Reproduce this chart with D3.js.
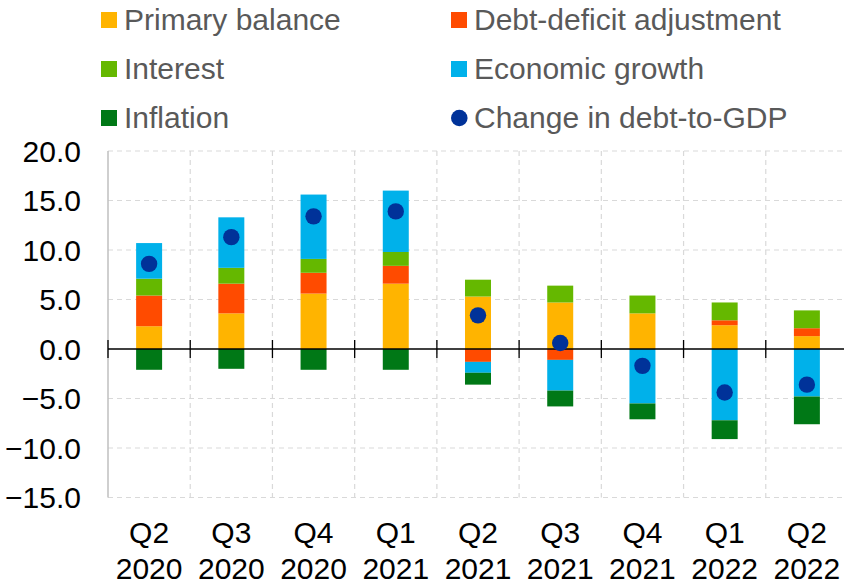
<!DOCTYPE html>
<html>
<head>
<meta charset="utf-8">
<script src="https://cdn.jsdelivr.net/npm/d3@7"></script>
<style>
  body { margin: 0; background: #fff; }
  svg { display: block; font-family: Arial, "Liberation Sans", sans-serif; }
</style>
</head>
<body>
<div id="chart"></div>
<script>
// quarters on the x axis (two-line labels)
const quarters = ["Q2 2020", "Q3 2020", "Q4 2020", "Q1 2021", "Q2 2021", "Q3 2021", "Q4 2021", "Q1 2022", "Q2 2022"];

// contributions to the change in debt-to-GDP (percentage points)
const primaryBalance = [2.3, 3.6, 5.6, 6.6, 5.3, 4.7, 3.6, 2.4, 1.3];
const debtDeficit    = [3.1, 3.0, 2.1, 1.8, -1.3, -1.1, 0.0, 0.5, 0.8];
const interest       = [1.7, 1.6, 1.4, 1.4, 1.7, 1.7, 1.8, 1.8, 1.8];
const growth         = [3.6, 5.1, 6.5, 6.2, -1.1, -3.1, -5.5, -7.2, -4.8];
const inflation      = [-2.1, -2.0, -2.1, -2.1, -1.2, -1.6, -1.6, -1.9, -2.8];
const changeDebt     = [8.6, 11.3, 13.4, 13.9, 3.4, 0.6, -1.7, -4.4, -3.6];

const yTicks = [20, 15, 10, 5, 0, -5, -10, -15];

const series = [
  { key: "primary", name: "Primary balance", values: primaryBalance, color: "#FFB400" },
  { key: "dd", name: "Debt-deficit adjustment", values: debtDeficit, color: "#FF4B00" },
  { key: "interest", name: "Interest", values: interest, color: "#65B800" },
  { key: "growth", name: "Economic growth", values: growth, color: "#00B1EA" },
  { key: "inflation", name: "Inflation", values: inflation, color: "#007816" }
];
const dotColor = "#003299";

const width = 844, height = 583;
const plot = { left: 108, right: 848, top: 151, bottom: 497.5 };

const svg = d3.select("#chart").append("svg")
  .attr("width", width)
  .attr("height", height);

// table for d3.stack
const table = quarters.map((q, i) => {
  const row = { quarter: q };
  series.forEach(s => { row[s.key] = s.values[i]; });
  return row;
});

const xScale = d3.scaleBand()
  .domain(quarters)
  .range([plot.left, plot.right])
  .padding(0);

const yScale = d3.scaleLinear()
  .domain([-15, 20])
  .range([plot.bottom, plot.top]);

const barWidth = xScale.bandwidth() * 0.316;

// gridlines
const grid = svg.append("g");
grid.selectAll("line.h")
  .data(yTicks.filter(t => t !== 0))
  .enter().append("line")
    .attr("x1", plot.left).attr("x2", plot.right)
    .attr("y1", d => yScale(d)).attr("y2", d => yScale(d))
    .attr("stroke", "#d9d9d9").attr("stroke-width", 1.2)
    .attr("stroke-dasharray", "5,4");

grid.selectAll("line.v")
  .data(quarters.slice(1))
  .enter().append("line")
    .attr("x1", d => xScale(d)).attr("x2", d => xScale(d))
    .attr("y1", plot.top).attr("y2", plot.bottom)
    .attr("stroke", "#d9d9d9").attr("stroke-width", 1.2)
    .attr("stroke-dasharray", "5,4");

// stacked bars
const stack = d3.stack()
  .keys(series.map(s => s.key))
  .offset(d3.stackOffsetDiverging);

const stacked = stack(table);

svg.append("g").selectAll("g")
  .data(stacked)
  .enter().append("g")
    .attr("fill", (d, i) => series[i].color)
  .selectAll("rect")
  .data(d => d)
  .enter().append("rect")
    .attr("x", d => xScale(d.data.quarter) + (xScale.bandwidth() - barWidth) / 2)
    .attr("width", barWidth)
    .attr("y", d => yScale(Math.max(d[0], d[1])))
    .attr("height", d => Math.abs(yScale(d[0]) - yScale(d[1])));

// left axis line
svg.append("line")
  .attr("x1", plot.left).attr("x2", plot.left)
  .attr("y1", plot.top).attr("y2", plot.bottom)
  .attr("stroke", "#bfbfbf").attr("stroke-width", 1.5);

// zero line with category ticks
const zeroY = yScale(0);
svg.append("line")
  .attr("x1", plot.left).attr("x2", plot.right)
  .attr("y1", zeroY).attr("y2", zeroY)
  .attr("stroke", "#000").attr("stroke-width", 1.3);

svg.append("g").selectAll("line")
  .data(quarters.concat(["end"]))
  .enter().append("line")
    .attr("x1", (d, i) => plot.left + i * xScale.bandwidth())
    .attr("x2", (d, i) => plot.left + i * xScale.bandwidth())
    .attr("y1", zeroY - 9).attr("y2", zeroY + 9)
    .attr("stroke", "#000").attr("stroke-width", 1.3);

// y tick labels
svg.append("g").selectAll("text")
  .data(yTicks)
  .enter().append("text")
    .attr("x", 81)
    .attr("y", d => yScale(d))
    .attr("dy", "0.35em")
    .attr("text-anchor", "end")
    .attr("font-size", "30px")
    .attr("fill", "#000")
    .text(d => d3.format(".1f")(d));

// x labels
const xLabels = svg.append("g").selectAll("text")
  .data(quarters)
  .enter().append("text")
    .attr("text-anchor", "middle")
    .attr("font-size", "30px")
    .attr("fill", "#000");

xLabels.append("tspan")
  .attr("x", d => xScale(d) + xScale.bandwidth() / 2)
  .attr("y", 543)
  .text(d => d.split(" ")[0]);

xLabels.append("tspan")
  .attr("x", d => xScale(d) + xScale.bandwidth() / 2)
  .attr("y", 579)
  .text(d => d.split(" ")[1]);

// change in debt-to-GDP dots
svg.append("g").selectAll("circle")
  .data(changeDebt)
  .enter().append("circle")
    .attr("cx", (d, i) => xScale(quarters[i]) + xScale.bandwidth() / 2)
    .attr("cy", d => yScale(d))
    .attr("r", 8.2)
    .attr("fill", dotColor);

// legend
const legendItems = [
  { name: "Primary balance", color: "#FFB400", type: "rect" },
  { name: "Debt-deficit adjustment", color: "#FF4B00", type: "rect" },
  { name: "Interest", color: "#65B800", type: "rect" },
  { name: "Economic growth", color: "#00B1EA", type: "rect" },
  { name: "Inflation", color: "#007816", type: "rect" },
  { name: "Change in debt-to-GDP", color: dotColor, type: "dot" }
];

const legend = svg.append("g").selectAll("g")
  .data(legendItems)
  .enter().append("g")
    .attr("transform", (d, i) => "translate(" + (i % 2 === 0 ? 101 : 451) + "," + (12 + Math.floor(i / 2) * 49) + ")");

legend.filter(d => d.type === "rect").append("rect")
  .attr("width", 16).attr("height", 16)
  .attr("fill", d => d.color);

legend.filter(d => d.type === "dot").append("circle")
  .attr("cx", 8.3).attr("cy", 8)
  .attr("r", 8.3)
  .attr("fill", d => d.color);

legend.append("text")
  .attr("x", 23)
  .attr("y", 17.5)
  .attr("font-size", "30px")
  .attr("fill", "#595959")
  .text(d => d.name);
</script>
</body>
</html>
